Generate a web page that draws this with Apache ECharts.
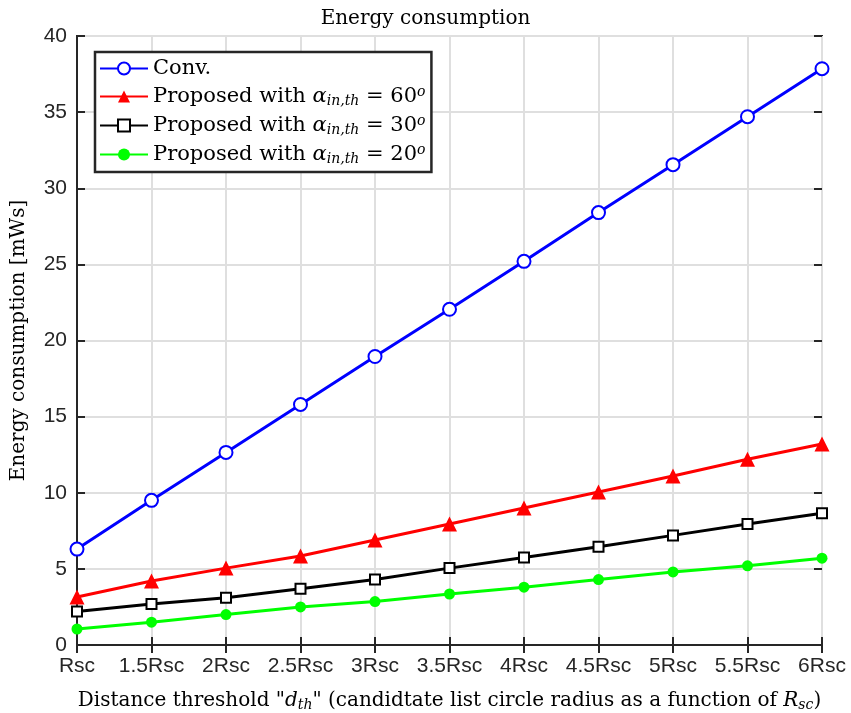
<!DOCTYPE html>
<html>
<head>
    <meta charset="utf-8">
    <title>Energy consumption</title>
    <script src="https://cdn.jsdelivr.net/npm/echarts@6/dist/echarts.min.js"></script>
    <style>
        html, body { margin: 0; padding: 0; background: #fff; }
        #chart { width: 851px; height: 713px; }
    </style>
</head>
<body>
    <div id="chart"></div>

    <script>
    // categories (distance threshold)
    const categories = ['Rsc', '1.5Rsc', '2Rsc', '2.5Rsc', '3Rsc', '3.5Rsc', '4Rsc', '4.5Rsc', '5Rsc', '5.5Rsc', '6Rsc'];

    // energy consumption values [mWs]
    const convData = [6.3, 9.5, 12.65, 15.8, 18.95, 22.05, 25.2, 28.4, 31.55, 34.7, 37.85];
    const prop60Data = [3.15, 4.2, 5.05, 5.85, 6.9, 7.95, 9.0, 10.05, 11.1, 12.2, 13.2];
    const prop30Data = [2.2, 2.7, 3.1, 3.7, 4.3, 5.05, 5.75, 6.45, 7.2, 7.95, 8.65];
    const prop20Data = [1.05, 1.5, 2.0, 2.5, 2.85, 3.35, 3.8, 4.3, 4.8, 5.2, 5.7];

    const serif = 'DejaVu Serif';
    const sans = 'Liberation Sans';
    const axisColor = '#262626';

    const rich = {
        n: { fontFamily: serif, fontSize: 21, color: '#000' },
        a: { fontFamily: serif, fontSize: 21, fontStyle: 'italic', color: '#000' },
        s: { fontFamily: serif, fontSize: 14, fontStyle: 'italic', color: '#000', verticalAlign: 'bottom', padding: [9, 0, 0, 0] },
        p: { fontFamily: serif, fontSize: 14, fontStyle: 'italic', color: '#000', verticalAlign: 'top', padding: [0, 0, 9, 0] }
    };

    const legendNames = {
        'Conv.': '{n|Conv.}',
        'p60': '{n|Proposed with }{a|α}{s|in,th}{n| = 60}{p|o}',
        'p30': '{n|Proposed with }{a|α}{s|in,th}{n| = 30}{p|o}',
        'p20': '{n|Proposed with }{a|α}{s|in,th}{n| = 20}{p|o}'
    };

    const chart = echarts.init(document.getElementById('chart'));

    const option = {
        backgroundColor: '#fff',
        animation: false,
        title: {
            text: 'Energy consumption',
            left: 'center',
            top: 4,
            textStyle: { fontFamily: serif, fontSize: 20, fontWeight: 'normal', color: '#000' }
        },
        grid: {
            left: 77, right: 29, top: 36, bottom: 68,
            outerBoundsMode: 'none',
            containLabel: false,
            show: true, borderColor: axisColor, borderWidth: 2
        },
        legend: {
            orient: 'vertical',
            left: 95, top: 52,
            padding: [6, 6, 6, 4],
            itemGap: 6,
            itemWidth: 48,
            itemHeight: 15,
            backgroundColor: '#fff',
            borderColor: axisColor,
            borderWidth: 2.5,
            borderRadius: 0,
            data: ['Conv.', 'p60', 'p30', 'p20'],
            formatter: function (name) { return legendNames[name]; },
            textStyle: { fontFamily: serif, fontSize: 21, color: '#000', rich: rich }
        },
        xAxis: [{
            type: 'category',
            data: categories,
            boundaryGap: false,
            axisLine: { lineStyle: { color: axisColor, width: 2 } },
            axisTick: { inside: true, length: 8, lineStyle: { color: axisColor, width: 2 } },
            axisLabel: { fontFamily: sans, fontSize: 21, color: '#262626', margin: 11, interval: 0 },
            splitLine: { show: true, lineStyle: { color: '#dfdfdf', width: 2 } },
            name: '{n|Distance threshold "}{a|d}{s|th}{n|" (candidtate list circle radius as a function of }{a|R}{s|sc}{n|)}',
            nameLocation: 'middle',
            nameGap: 44,
            nameTextStyle: { fontFamily: serif, fontSize: 20, color: '#000', rich: {
                n: { fontFamily: serif, fontSize: 20, color: '#000' },
                a: { fontFamily: serif, fontSize: 20, fontStyle: 'italic', color: '#000' },
                s: { fontFamily: serif, fontSize: 14, fontStyle: 'italic', color: '#000', verticalAlign: 'bottom', padding: [9, 0, 0, 0] }
            } }
        }, {
            type: 'category',
            data: categories,
            boundaryGap: false,
            position: 'top',
            axisLine: { show: false },
            axisTick: { inside: true, length: 8, lineStyle: { color: axisColor, width: 2 } },
            axisLabel: { show: false },
            splitLine: { show: false }
        }],
        yAxis: [{
            type: 'value',
            min: 0, max: 40, interval: 5,
            axisLine: { show: true, lineStyle: { color: axisColor, width: 2 } },
            axisTick: { show: true, inside: true, length: 8, lineStyle: { color: axisColor, width: 2 } },
            axisLabel: { fontFamily: sans, fontSize: 21, color: '#262626', margin: 10 },
            splitLine: { show: true, lineStyle: { color: '#dfdfdf', width: 2 } },
            name: 'Energy consumption [mWs]',
            nameLocation: 'middle',
            nameGap: 48,
            nameTextStyle: { fontFamily: serif, fontSize: 20, color: '#000' }
        }, {
            type: 'value',
            min: 0, max: 40, interval: 5,
            position: 'right',
            axisLine: { show: false },
            axisTick: { show: true, inside: true, length: 8, lineStyle: { color: axisColor, width: 2 } },
            axisLabel: { show: false },
            splitLine: { show: false }
        }],
        series: [{
            name: 'Conv.',
            type: 'line',
            data: convData,
            symbol: 'emptyCircle',
            symbolSize: 13,
            lineStyle: { color: '#0000ff', width: 3 },
            itemStyle: { color: '#0000ff', borderWidth: 3 },
            z: 4
        }, {
            name: 'p60',
            type: 'line',
            data: prop60Data,
            symbol: 'triangle',
            symbolSize: 15,
            lineStyle: { color: '#ff0000', width: 3 },
            itemStyle: { color: '#ff0000' },
            z: 3
        }, {
            name: 'p30',
            type: 'line',
            data: prop30Data,
            symbol: 'emptyRect',
            symbolSize: 10,
            lineStyle: { color: '#000000', width: 3 },
            itemStyle: { color: '#000000', borderWidth: 4 },
            z: 3
        }, {
            name: 'p20',
            type: 'line',
            data: prop20Data,
            symbol: 'circle',
            symbolSize: 11,
            lineStyle: { color: '#00ff00', width: 3 },
            itemStyle: { color: '#00ff00' },
            z: 3
        }]
    };

    chart.setOption(option);
    </script>
</body>
</html>
